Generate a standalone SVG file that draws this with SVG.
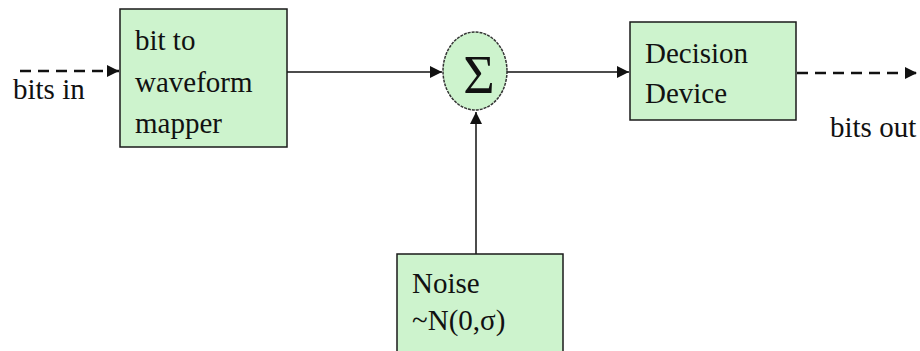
<svg xmlns="http://www.w3.org/2000/svg" width="920" height="351" viewBox="0 0 920 351">
<defs>
<style>
.box{fill:#cdf3cd;stroke:#1a1a1a;stroke-width:1.5}
.t{font-family:"Liberation Serif","Times New Roman","DejaVu Serif",serif;font-size:29px;fill:#111}
.ln{stroke:#111;stroke-width:1.5;fill:none}
.dash{stroke:#111;stroke-width:2.5;fill:none;stroke-dasharray:11,7}
</style>
<marker id="ah" markerWidth="12" markerHeight="12" viewBox="0 0 12 12" refX="12" refY="6" orient="auto" markerUnits="userSpaceOnUse">
<path d="M0,0 L12,6 L0,12 Z" fill="#111"/>
</marker>
</defs>
<rect width="920" height="351" fill="#fff"/>
<g id="connectors">
<line class="dash" x1="20" y1="71" x2="119" y2="71" marker-end="url(#ah)"/>
<line class="ln" x1="287" y1="72" x2="442" y2="72" marker-end="url(#ah)"/>
<line class="ln" x1="507" y1="72" x2="629" y2="72" marker-end="url(#ah)"/>
<line class="dash" x1="797" y1="73" x2="917" y2="73" marker-end="url(#ah)"/>
<line class="ln" x1="476" y1="254" x2="476" y2="112" marker-end="url(#ah)"/>
</g>
<g id="bits-in"><text class="t" x="13" y="99">bits in</text></g>
<g id="mapper">
<rect class="box" x="120" y="9" width="167" height="138"/>
<text class="t" x="135" y="50">bit to</text>
<text class="t" x="135" y="92">waveform</text>
<text class="t" x="135" y="133">mapper</text>
</g>
<g id="sum">
<ellipse cx="475" cy="71" rx="32" ry="39" fill="#cdf3cd" stroke="#333" stroke-width="1.5" stroke-dasharray="3,1"/>
<text class="t" x="479" y="93" text-anchor="middle" style="font-size:54px">Σ</text>
</g>
<g id="decision">
<rect class="box" x="630" y="22" width="166" height="98"/>
<text class="t" x="645" y="63">Decision</text>
<text class="t" x="645" y="103">Device</text>
</g>
<g id="bits-out"><text class="t" x="830" y="137">bits out</text></g>
<g id="noise">
<rect class="box" x="397" y="254" width="166" height="110"/>
<text class="t" x="412" y="293">Noise</text>
<text class="t" x="412" y="330">~N(0,σ)</text>
</g>
</svg>
